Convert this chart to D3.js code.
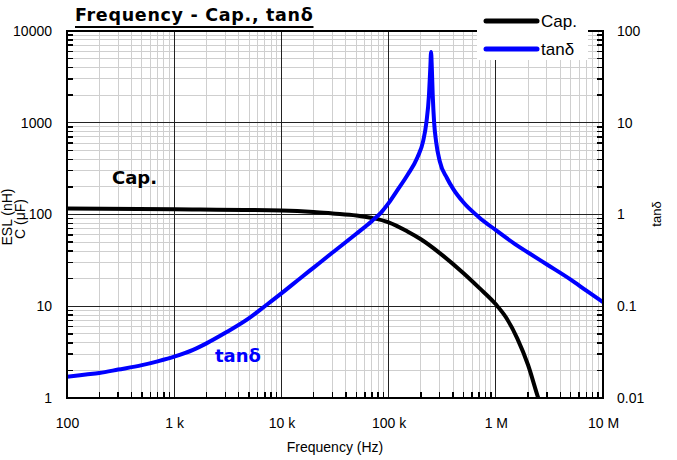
<!DOCTYPE html>
<html><head><meta charset="utf-8">
<script src="https://cdn.jsdelivr.net/npm/d3@7"></script>
<style>
body{margin:0;background:#fff;}
svg{display:block;}
</style></head>
<body><svg id="c" width="677" height="460"></svg>
<script>
// ---- data ----
const capFreq = [100, 1e3, 1e4, 2e4, 3e4, 5e4, 7e4, 1e5, 1.5e5, 2e5, 3e5, 5e5, 7e5, 1e6, 1.26e6, 1.585e6, 2e6, 2.51e6, 3e6];
const capVals = [116.4, 114.3, 110.7, 106.7, 102.8, 97.7, 91.6, 82.2, 65.3, 53.7, 38.0, 22.9, 15.85, 10.5, 7.41, 4.47, 2.29, 0.97, 0.55];
const tanFreq = [100, 150, 200, 300, 500, 700, 1e3, 1.5e3, 2e3, 3e3, 5e3, 7e3, 1e4, 1.5e4, 2e4, 3e4, 5e4, 7e4, 8.5e4, 1e5, 1.2e5, 1.5e5, 1.86e5, 2.1e5, 2.25e5, 2.38e5, 2.45e5, 2.49e5, 2.53e5, 2.58e5, 2.66e5, 2.77e5, 3e5, 3.5e5, 4e5, 5e5, 7e5, 1e6, 1.5e6, 2e6, 3e6, 5e6, 7e6, 1e7];
const tanVals = [0.0170, 0.0180, 0.01875, 0.0204, 0.0228, 0.0251, 0.0282, 0.0335, 0.0394, 0.0513, 0.0741, 0.100, 0.138, 0.202, 0.264, 0.385, 0.617, 0.851, 1.05, 1.33, 1.82, 2.7, 4.2, 6.3, 10, 20, 40, 59, 40, 20, 10, 6.3, 3.8, 2.5, 1.9, 1.35, 0.93, 0.676, 0.479, 0.385, 0.285, 0.195, 0.148, 0.111];
const xTicks = [100, 1e3, 1e4, 1e5, 1e6, 1e7];
const xTickLabels = ["100", "1 k", "10 k", "100 k", "1 M", "10 M"];
const yLeftTicks = [1, 10, 100, 1000, 10000];
const yLeftLabels = ["1", "10", "100", "1000", "10000"];
const yRightTicks = [0.01, 0.1, 1, 10, 100];
const yRightLabels = ["0.01", "0.1", "1", "10", "100"];
const seriesNames = ["Cap.", "tanδ"];
const seriesColors = ["#000000", "#0000ff"];

// ---- layout ----
const SANS = "'Liberation Sans',Arial,sans-serif";
const BOLD = "'DejaVu Sans',Verdana,sans-serif";
const L = 67, R = 603, T = 31, B = 398;
const svg = d3.select("#c");
const x = d3.scaleLog().domain([100, 1e7]).range([L, R]);
const yL = d3.scaleLog().domain([1, 1e4]).range([B, T]);
const yR = d3.scaleLog().domain([0.01, 100]).range([B, T]);

function minors(lo, hi) {
  const out = [];
  for (let d = lo; d < hi; d *= 10) for (let k = 2; k <= 9; k++) out.push(d * k);
  return out;
}
const xMinor = minors(100, 1e7);
const yMinor = minors(1, 1e4);

const g = svg.append("g");
// minor grid
g.selectAll(".vx").data(xMinor).join("line")
  .attr("x1", d => x(d)).attr("x2", d => x(d)).attr("y1", T).attr("y2", B)
  .attr("stroke", "#cfcfcf").attr("stroke-width", 1).attr("shape-rendering", "crispEdges");
g.selectAll(".hy").data(yMinor).join("line")
  .attr("y1", d => yL(d)).attr("y2", d => yL(d)).attr("x1", L).attr("x2", R)
  .attr("stroke", "#cfcfcf").attr("stroke-width", 1).attr("shape-rendering", "crispEdges");
// major grid
g.selectAll(".mx").data(xTicks.slice(1, -1)).join("line")
  .attr("x1", d => x(d)).attr("x2", d => x(d)).attr("y1", T).attr("y2", B)
  .attr("stroke", "#222").attr("stroke-width", 1).attr("shape-rendering", "crispEdges");
g.selectAll(".my").data(yLeftTicks.slice(1, -1)).join("line")
  .attr("y1", d => yL(d)).attr("y2", d => yL(d)).attr("x1", L).attr("x2", R)
  .attr("stroke", "#222").attr("stroke-width", 1).attr("shape-rendering", "crispEdges");

// inward minor ticks
g.selectAll(".tl").data(yMinor).join("line")
  .attr("x1", L).attr("x2", L + 6).attr("y1", d => yL(d)).attr("y2", d => yL(d))
  .attr("stroke", "#000").attr("stroke-width", 1.5).attr("shape-rendering", "crispEdges");
g.selectAll(".tr").data(yMinor).join("line")
  .attr("x1", R - 6).attr("x2", R).attr("y1", d => yL(d)).attr("y2", d => yL(d))
  .attr("stroke", "#000").attr("stroke-width", 1.5).attr("shape-rendering", "crispEdges");
g.selectAll(".tb").data(xMinor).join("line")
  .attr("x1", d => x(d)).attr("x2", d => x(d)).attr("y1", B - 6).attr("y2", B)
  .attr("stroke", "#000").attr("stroke-width", 1.5).attr("shape-rendering", "crispEdges");

// clip
svg.append("clipPath").attr("id", "clip").append("rect")
  .attr("x", L).attr("y", T).attr("width", R - L).attr("height", B - T);

const line = d3.line().curve(d3.curveMonotoneX);
const capPts = capFreq.map((f, i) => [x(f), yL(capVals[i])]);
const tanPts = tanFreq.map((f, i) => [x(f), yR(tanVals[i])]);
const curves = svg.append("g").attr("clip-path", "url(#clip)");
curves.append("path").attr("d", line(capPts)).attr("fill", "none")
  .attr("stroke", seriesColors[0]).attr("stroke-width", 4).attr("stroke-linejoin", "round");
curves.append("path").attr("d", line(tanPts)).attr("fill", "none")
  .attr("stroke", seriesColors[1]).attr("stroke-width", 4).attr("stroke-linejoin", "round");

// frame
svg.append("rect").attr("x", L).attr("y", T).attr("width", R - L).attr("height", B - T)
  .attr("fill", "none").attr("stroke", "#000").attr("stroke-width", 2);

// axes labels
const axL = d3.axisLeft(yL).tickValues(yLeftTicks).tickSize(0).tickPadding(15)
  .tickFormat((d, i) => yLeftLabels[i]);
const aL = svg.append("g").attr("transform", `translate(${L},0)`).call(axL);
const axR = d3.axisRight(yR).tickValues(yRightTicks).tickSize(0).tickPadding(14)
  .tickFormat((d, i) => yRightLabels[i]);
const aR = svg.append("g").attr("transform", `translate(${R},0)`).call(axR);
const axB = d3.axisBottom(x).tickValues(xTicks).tickSize(0).tickPadding(20)
  .tickFormat((d, i) => xTickLabels[i]);
const aB = svg.append("g").attr("transform", `translate(0,${B})`).call(axB);
[aL, aR, aB].forEach(a => {
  a.attr("font-family", null).attr("font-size", null);
  a.select(".domain").remove();
  a.selectAll("text").style("font-family", SANS).style("font-size", "14px").attr("fill", "#000");
});

// axis titles
function txt(s) { return svg.append("text").style("font-family", SANS).text(s); }
txt("Frequency (Hz)").attr("x", 335).attr("y", 452).attr("text-anchor", "middle").style("font-size", "14px");
txt("ESL (nH)").attr("transform", "translate(12,217) rotate(-90)").attr("text-anchor", "middle").style("font-size", "14px");
txt("C (μF)").attr("transform", "translate(25,219) rotate(-90)").attr("text-anchor", "middle").style("font-size", "14px");
txt("tanδ").attr("transform", "translate(661,214) rotate(-90)").attr("text-anchor", "middle").style("font-size", "13px");

// title
const title = svg.append("text").attr("x", 75).attr("y", 21)
  .style("font-family", BOLD).style("font-weight", "bold")
  .style("font-size", "17.5px").style("letter-spacing", "0.7px").text("Frequency - Cap., tanδ");
const tw = title.node().getComputedTextLength();
svg.append("line").attr("x1", 75).attr("x2", 75 + tw).attr("y1", 27).attr("y2", 27)
  .attr("stroke", "#000").attr("stroke-width", 2);

// in-plot labels
svg.append("text").attr("x", 112).attr("y", 184)
  .style("font-family", BOLD).style("font-weight", "bold")
  .style("font-size", "18px").attr("fill", seriesColors[0]).text(seriesNames[0]);
svg.append("text").attr("x", 215).attr("y", 362)
  .style("font-family", BOLD).style("font-weight", "bold")
  .style("font-size", "18px").attr("fill", seriesColors[1]).text(seriesNames[1]);

// legend
const lg = svg.append("g");
lg.append("rect").attr("x", 477).attr("y", 0).attr("width", 111).attr("height", 60).attr("fill", "#fff");
seriesNames.forEach((n, i) => {
  const yy = 21 + i * 28;
  lg.append("line").attr("x1", 486).attr("x2", 537).attr("y1", yy).attr("y2", yy)
    .attr("stroke", seriesColors[i]).attr("stroke-width", 5).attr("stroke-linecap", "round");
  lg.append("text").attr("x", 541).attr("y", yy + 6).style("font-family", SANS)
    .style("font-size", "17px").text(n);
});
</script></body></html>
